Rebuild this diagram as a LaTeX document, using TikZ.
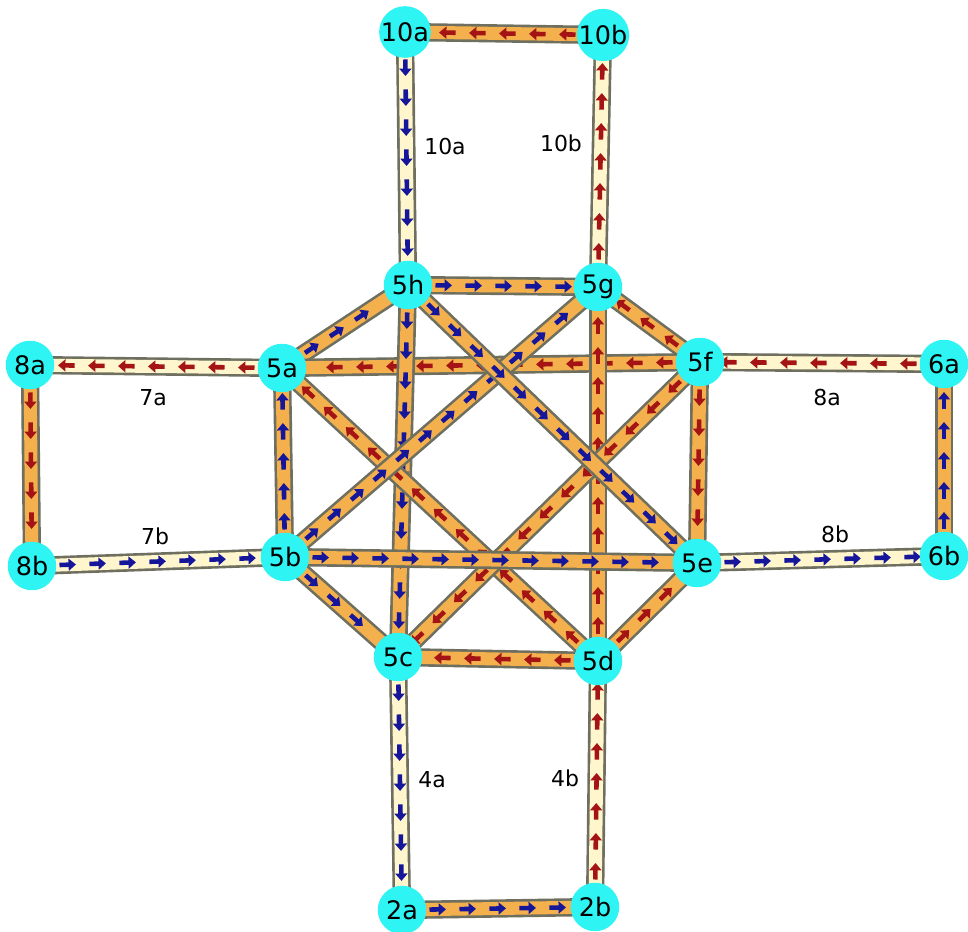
\documentclass[tikz,border=0pt]{standalone}
\usepackage{fontspec}
\setmainfont{DejaVu Sans}
\usetikzlibrary{arrows.meta,decorations.markings,backgrounds}
\definecolor{junctioncyan}{HTML}{2EF4F4}
\definecolor{roadedge}{HTML}{6F6F60}
\definecolor{roadorange}{HTML}{F3B04C}
\definecolor{roadcream}{HTML}{FFF6CE}
\definecolor{flowblue}{HTML}{16169A}
\definecolor{flowred}{HTML}{A51414}
\tikzset{
  trafficfig/.style={x=0.02cm,y=-0.02cm},
  junction/.style={circle,fill=junctioncyan,minimum size=0.97cm,inner sep=0pt,
    font=\fontsize{14.5}{16}\selectfont},
  road/.style={line width=1.5pt,draw=roadedge,double=#1,double distance=7.4pt},
  flow/.style={postaction={decorate,decoration={markings,
    mark=between positions 0.72cm and -0.5cm step 0.6cm with
    {\draw[#1,line width=2.6pt,-{Triangle[length=4.2pt,width=6.8pt]}]
      (-0.17cm,0) -- (0.16cm,0);}}}},
  roadlabel/.style={inner sep=1pt,font=\fontsize{12.5}{14}\selectfont},
}

\begin{document}
\begin{tikzpicture}[trafficfig]
    \useasboundingbox (0,0) rectangle (968,932);

    % junctions
    \node[junction] (10a) at (405,32) {10a};
    \node[junction] (10b) at (603,35) {10b};
    \node[junction] (5h) at (408,285) {5h};
    \node[junction] (5g) at (598,287) {5g};
    \node[junction] (8a) at (30,365) {8a};
    \node[junction] (5a) at (282,368) {5a};
    \node[junction] (5f) at (700,362) {5f};
    \node[junction] (6a) at (944,364) {6a};
    \node[junction] (8b) at (32,566) {8b};
    \node[junction] (5b) at (285,557) {5b};
    \node[junction] (5e) at (697,563) {5e};
    \node[junction] (6b) at (944,556) {6b};
    \node[junction] (5c) at (398,657) {5c};
    \node[junction] (5d) at (598,661) {5d};
    \node[junction] (2a) at (402,910) {2a};
    \node[junction] (2b) at (595,907) {2b};

    % road names
    \node[roadlabel] (l10a) at (445,147) {10a};
    \node[roadlabel] (l10b) at (561,143) {10b};
    \node[roadlabel] (l7a) at (153,398) {7a};
    \node[roadlabel] (l7b) at (155,536) {7b};
    \node[roadlabel] (l8a) at (827,398) {8a};
    \node[roadlabel] (l8b) at (835,534) {8b};
    \node[roadlabel] (l4a) at (432,780) {4a};
    \node[roadlabel] (l4b) at (565,778) {4b};

    % roads, one way each
    \begin{scope}[on background layer]
      \foreach \from/\to/\fillc/\flowc in {
          10b/10a/roadorange/flowred, 10a/5h/roadcream/flowblue,
          5g/10b/roadcream/flowred, 5a/8a/roadcream/flowred,
          8a/8b/roadorange/flowred, 8b/5b/roadcream/flowblue,
          6a/5f/roadcream/flowred, 5f/5e/roadorange/flowred,
          5e/6b/roadcream/flowblue, 6b/6a/roadorange/flowblue,
          5c/2a/roadcream/flowblue, 2a/2b/roadorange/flowblue,
          2b/5d/roadcream/flowred, 5d/5c/roadorange/flowred,
          5h/5g/roadorange/flowblue, 5b/5a/roadorange/flowblue,
          5a/5h/roadorange/flowblue, 5f/5g/roadorange/flowred,
          5d/5e/roadorange/flowred, 5b/5c/roadorange/flowblue,
          5f/5a/roadorange/flowred, 5h/5c/roadorange/flowblue,
          5d/5g/roadorange/flowred, 5d/5a/roadorange/flowred,
          5f/5c/roadorange/flowred, 5b/5g/roadorange/flowblue,
          5h/5e/roadorange/flowblue, 5b/5e/roadorange/flowblue} {
        \draw[road=\fillc] (\from.center) -- (\to.center);
        \path[flow=\flowc] (\from.center) -- (\to.center);
      }
    \end{scope}
  \end{tikzpicture}
\end{document}
